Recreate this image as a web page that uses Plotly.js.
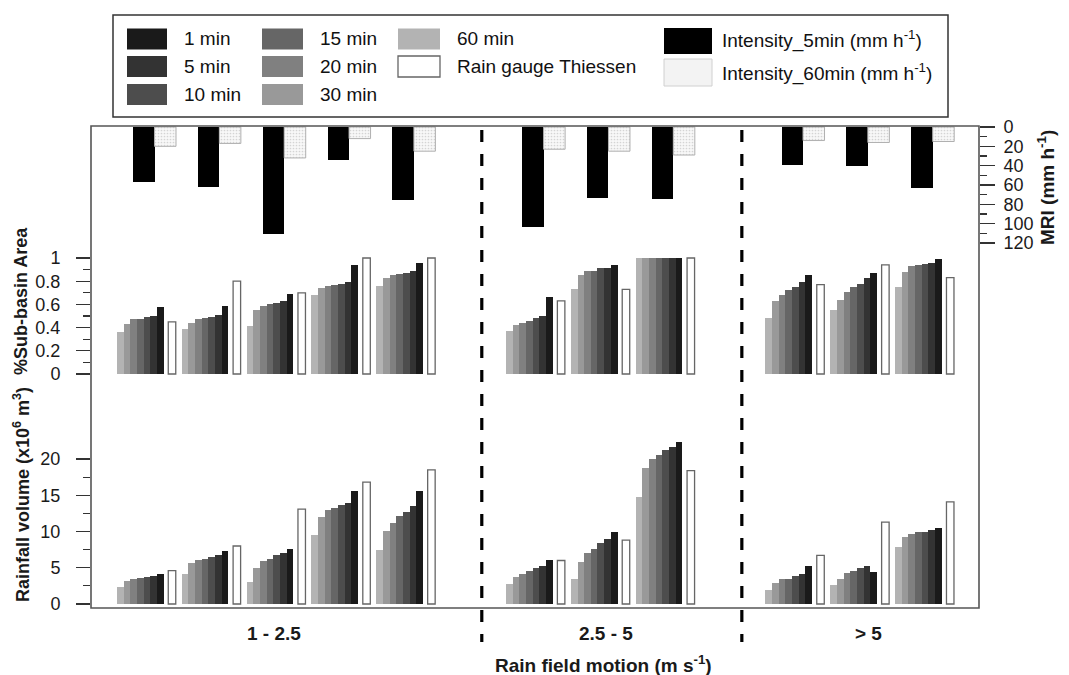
<!DOCTYPE html>
<html>
<head>
<meta charset="utf-8">
<script src="https://cdn.plot.ly/plotly-3.0.1.min.js"></script>
<style>html,body{margin:0;padding:0;background:#fff;}#chart{width:1069px;height:675px;}</style>
</head>
<body>
<div id="chart"></div>
<script>
// ---------------- DATA ----------------
const categories = ['1 - 2.5', '2.5 - 5', '> 5'];
const eventsPerClass = [5, 3, 3];
const xTitle = 'Rain field motion (m s<sup>-1</sup>)';

const durationLabels = ['60 min', '30 min', '20 min', '15 min', '10 min', '5 min', '1 min'];

// %Sub-basin area
const area60 = [0.36, 0.39, 0.41, 0.68, 0.76, 0.37, 0.73, 1.00, 0.48, 0.55, 0.75];
const area30 = [0.43, 0.44, 0.55, 0.74, 0.83, 0.42, 0.85, 1.00, 0.63, 0.64, 0.88];
const area20 = [0.47, 0.47, 0.59, 0.76, 0.85, 0.44, 0.89, 1.00, 0.68, 0.71, 0.93];
const area15 = [0.47, 0.48, 0.60, 0.77, 0.86, 0.46, 0.89, 1.00, 0.72, 0.75, 0.94];
const area10 = [0.49, 0.49, 0.61, 0.78, 0.87, 0.48, 0.91, 1.00, 0.75, 0.78, 0.95];
const area5  = [0.50, 0.51, 0.63, 0.79, 0.89, 0.50, 0.91, 1.00, 0.79, 0.83, 0.96];
const area1  = [0.58, 0.59, 0.69, 0.94, 0.96, 0.66, 0.94, 1.00, 0.85, 0.87, 0.99];
const areaThiessen = [0.45, 0.80, 0.70, 1.00, 1.00, 0.63, 0.73, 1.00, 0.77, 0.94, 0.83];

// Rainfall volume (x10^6 m^3)
const vol60 = [2.4, 4.1, 3.0, 9.5, 7.5, 2.8, 3.5, 14.7, 1.9, 2.6, 7.9];
const vol30 = [3.2, 5.6, 4.9, 12.0, 10.1, 3.7, 5.8, 18.8, 2.9, 3.5, 9.3];
const vol20 = [3.5, 6.1, 5.9, 12.9, 11.2, 4.2, 7.1, 20.0, 3.4, 4.3, 9.7];
const vol15 = [3.6, 6.2, 6.2, 13.2, 12.1, 4.6, 7.6, 20.6, 3.5, 4.5, 9.9];
const vol10 = [3.7, 6.5, 6.7, 13.6, 12.7, 5.0, 8.4, 21.2, 3.8, 4.9, 9.9];
const vol5  = [3.9, 6.7, 7.0, 13.9, 13.5, 5.2, 8.9, 21.7, 4.1, 5.2, 10.2];
const vol1  = [4.2, 7.3, 7.6, 15.6, 15.6, 6.1, 9.9, 22.4, 5.3, 4.4, 10.5];
const volThiessen = [4.6, 8.0, 13.1, 16.8, 18.5, 6.0, 8.8, 18.4, 6.7, 11.3, 14.1];

// MRI (mm h^-1)
const intensity5min  = [57, 62, 111, 34, 76, 103, 73, 74, 39, 40, 63];
const intensity60min = [20, 17, 32, 12, 25, 23, 25, 29, 14, 16, 15];

const areaSeries = [area60, area30, area20, area15, area10, area5, area1];
const volSeries  = [vol60, vol30, vol20, vol15, vol10, vol5, vol1];

// ---------------- STYLE / GEOMETRY ----------------
const W = 1069, H = 675;
const M = {l: 91, r: 90, t: 126, b: 67};
const PW = W - M.l - M.r, PH = H - M.t - M.b;
const X0 = -0.856, X1 = 12.837;
const SLOT = PW / (X1 - X0);
const px = d => d / SLOT;
const paperX = p => (p - M.l) / PW;
const paperY = p => (H - M.b - p) / PH;

const greys = ['#b3b3b3', '#999999', '#808080', '#666666', '#4d4d4d', '#333333', '#1a1a1a'];
const FONT = 'Liberation Sans, Arial, sans-serif';

// group slots: each class separated by an empty slot
const slots = [];
let s = 0;
eventsPerClass.forEach(n => {
  for (let i = 0; i < n; i++) slots.push(s++);
  s++;
});
const classCenters = [];
{
  let k = 0;
  eventsPerClass.forEach(n => {
    const sub = slots.slice(k, k + n);
    classCenters.push((sub[0] + sub[sub.length - 1]) / 2);
    k += n;
  });
}

const traces = [];
const BW = 6.65;
// middle & bottom panels
[['y2', areaSeries, areaThiessen], ['y', volSeries, volThiessen]].forEach(([ax, series, thiessen]) => {
  series.forEach((vals, j) => {
    traces.push({
      type: 'bar', yaxis: ax, name: durationLabels[j],
      x: slots.map(v => v + px(-29.5 + BW * (j + 0.5))),
      y: vals, width: px(BW + 0.15),
      marker: {color: greys[j], line: {width: 0}},
      showlegend: false, hoverinfo: 'y+name'
    });
  });
  traces.push({
    type: 'bar', yaxis: ax, name: 'Rain gauge Thiessen',
    x: slots.map(v => v + px(25.5)),
    y: thiessen, width: px(7.5),
    marker: {color: '#ffffff', line: {color: '#666666', width: 1.3}},
    showlegend: false, hoverinfo: 'y+name'
  });
});
// top panel
traces.push({
  type: 'bar', yaxis: 'y3', name: 'Intensity_5min',
  x: slots.map(v => v + px(-2.75)), y: intensity5min, width: px(21.5),
  marker: {color: '#000000', line: {width: 0}}, showlegend: false
});
traces.push({
  type: 'bar', yaxis: 'y3', name: 'Intensity_60min',
  x: slots.map(v => v + px(18.75)), y: intensity60min, width: px(21.5),
  marker: {color: '#f6f6f6', line: {color: '#b0b0b0', width: 1},
    pattern: {shape: '.', fgcolor: '#d4d4d4', bgcolor: '#f8f8f8', size: 3, solidity: 0.25, fillmode: 'replace'}},
  showlegend: false
});

// axis ranges from pixel positions
const volZeroFromBottom = 4, volScale = 7.25;
const areaZeroFromBottom = 234, areaScale = 116;
const mriZeroFromTop = 1, mriScale = 0.967;

const tickCommon = {
  showgrid: false, zeroline: false, showline: false, ticks: 'outside',
  tickcolor: '#333', tickwidth: 1.2, tickfont: {family: FONT, size: 18, color: '#1a1a1a'}
};

const layout = {
  width: W, height: H, margin: M,
  paper_bgcolor: '#fff', plot_bgcolor: '#fff',
  barmode: 'overlay', showlegend: false, bargap: 0,
  xaxis: {range: [X0, X1], showgrid: false, zeroline: false, showticklabels: false, ticks: '', showline: false, fixedrange: true},
  yaxis: Object.assign({}, tickCommon, {
    domain: [0, 1],
    range: [-volZeroFromBottom / volScale, (PH - volZeroFromBottom) / volScale],
    tickmode: 'array', tickvals: [0, 5, 10, 15, 20], ticklen: 14, ticklabelstandoff: 12,
    minor: {tickmode: 'array', tickvals: [2.5, 7.5, 12.5, 17.5], ticks: 'outside', ticklen: 7, tickcolor: '#333', tickwidth: 1.2}
  }),
  yaxis2: Object.assign({}, tickCommon, {
    overlaying: 'y', side: 'left', anchor: 'x',
    range: [-areaZeroFromBottom / areaScale, (PH - areaZeroFromBottom) / areaScale],
    tickmode: 'array', tickvals: [0, 0.2, 0.4, 0.6, 0.8, 1], ticktext: ['0', '0.2', '0.4', '0.6', '0.8', '1'],
    ticklen: 14, ticklabelstandoff: 12,
    minor: {tickmode: 'array', tickvals: [0.1, 0.3, 0.5, 0.7, 0.9], ticks: 'outside', ticklen: 7, tickcolor: '#333', tickwidth: 1.2}
  }),
  yaxis3: Object.assign({}, tickCommon, {
    overlaying: 'y', side: 'right', anchor: 'x',
    range: [(PH - mriZeroFromTop) / mriScale, -mriZeroFromTop / mriScale],
    tickmode: 'array', tickvals: [0, 20, 40, 60, 80, 100, 120],
    ticklen: 15, ticklabelstandoff: 5, tickfont: {family: FONT, size: 18, color: '#1a1a1a'},
    minor: {tickmode: 'array', tickvals: [10, 30, 50, 70, 90, 110], ticks: 'outside', ticklen: 7, tickcolor: '#333', tickwidth: 1.2}
  }),
  shapes: [],
  annotations: []
};

// frame
layout.shapes.push({type: 'rect', xref: 'paper', yref: 'paper', x0: 0, x1: 1, y0: 0, y1: 1,
  line: {color: '#555', width: 1.6}, fillcolor: 'rgba(0,0,0,0)', layer: 'above'});

// class dividers
const dividerSlots = [5.17, 9.18];
dividerSlots.forEach(d => {
  const xp = (d - X0) / (X1 - X0);
  layout.shapes.push({type: 'line', xref: 'paper', yref: 'paper', x0: xp, x1: xp,
    y0: paperY(130), y1: paperY(642), line: {color: '#000', width: 3.2, dash: '12px,12px'}, layer: 'above'});
});

// class labels
const labelShift = [-0.03, 0.09, 0.14];
categories.forEach((c, i) => {
  layout.annotations.push({xref: 'x', yref: 'paper', x: classCenters[i] + labelShift[i], y: paperY(633),
    text: '<b>' + c + '</b>', showarrow: false, xanchor: 'center', yanchor: 'middle',
    font: {family: FONT, size: 19, color: '#1a1a1a'}});
});
layout.annotations.push({xref: 'paper', yref: 'paper', x: paperX(603), y: paperY(664),
  text: '<b>' + xTitle + '</b>', showarrow: false, xanchor: 'center', yanchor: 'middle',
  font: {family: FONT, size: 19, color: '#1a1a1a'}});
// y titles
layout.annotations.push({xref: 'paper', yref: 'paper', x: paperX(21), y: paperY(301),
  text: '<b>%Sub-basin Area</b>', textangle: -90, showarrow: false, xanchor: 'center', yanchor: 'middle',
  font: {family: FONT, size: 18, color: '#1a1a1a'}});
layout.annotations.push({xref: 'paper', yref: 'paper', x: paperX(21), y: paperY(495),
  text: '<b>Rainfall volume (x10<sup>6</sup> m<sup>3</sup>)</b>', textangle: -90, showarrow: false, xanchor: 'center', yanchor: 'middle',
  font: {family: FONT, size: 18, color: '#1a1a1a'}});
layout.annotations.push({xref: 'paper', yref: 'paper', x: paperX(1046), y: paperY(188),
  text: '<b>MRI (mm h<sup>-1</sup>)</b>', textangle: -90, showarrow: false, xanchor: 'center', yanchor: 'middle',
  font: {family: FONT, size: 19, color: '#1a1a1a'}});

// ---------------- manual legend ----------------
function box(x0, y0, x1, y1, fill, line, lw) {
  layout.shapes.push({type: 'rect', xref: 'paper', yref: 'paper',
    x0: paperX(x0), x1: paperX(x1), y0: paperY(y1), y1: paperY(y0),
    fillcolor: fill, line: {color: line, width: lw}});
}
function label(x, y, t) {
  layout.annotations.push({xref: 'paper', yref: 'paper', x: paperX(x), y: paperY(y), text: t,
    showarrow: false, xanchor: 'left', yanchor: 'middle', font: {family: FONT, size: 19, color: '#111'}});
}
box(113, 15, 948, 117, '#ffffff', '#333', 1.5);
const rowY = [39, 66.5, 94.5];
const legendItems = [
  {col: 0, row: 0, c: greys[6], t: '1 min'},
  {col: 0, row: 1, c: greys[5], t: '5 min'},
  {col: 0, row: 2, c: greys[4], t: '10 min'},
  {col: 1, row: 0, c: greys[3], t: '15 min'},
  {col: 1, row: 1, c: greys[2], t: '20 min'},
  {col: 1, row: 2, c: greys[1], t: '30 min'},
  {col: 2, row: 0, c: greys[0], t: '60 min'},
  {col: 2, row: 1, c: '#ffffff', t: 'Rain gauge Thiessen', border: true}
];
const colSw = [[127, 167, 182], [262, 303, 318], [398, 440, 455]];
legendItems.forEach(it => {
  const [a, b, tx] = colSw[it.col];
  const y = rowY[it.row];
  box(a, y - 10.5, b, y + 10.5, it.c, it.border ? '#666' : it.c, it.border ? 1.3 : 0);
  label(tx, y, it.t);
});
box(664, 28, 712, 54, '#000000', '#000', 0);
label(720, 40, 'Intensity_5min (mm h<sup>-1</sup>)');
box(664, 59, 712, 86, '#f3f3f3', '#d0d0d0', 1);
label(720, 73, 'Intensity_60min (mm h<sup>-1</sup>)');

Plotly.newPlot('chart', traces, layout, {displayModeBar: false, staticPlot: true});
</script>
</body>
</html>
